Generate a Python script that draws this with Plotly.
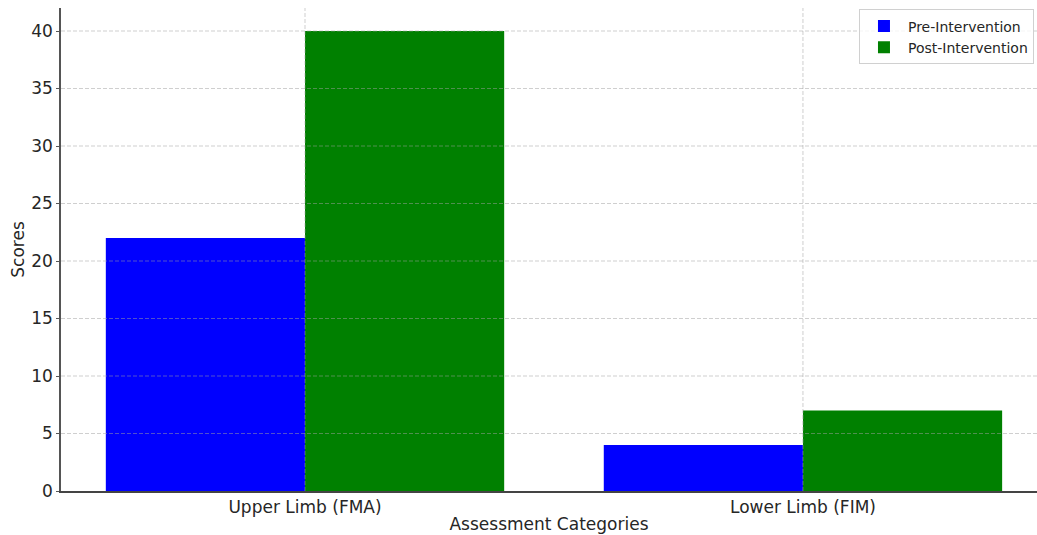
import plotly.graph_objects as go

categories = ["Upper Limb (FMA)", "Lower Limb (FIM)"]
pre_values = [22, 4]
post_values = [40, 7]
y_ticks = [0, 5, 10, 15, 20, 25, 30, 35, 40]
series_names = ["Pre-Intervention", "Post-Intervention"]

FONT = "DejaVu Sans"
TXT = "#262626"
GRID = "rgba(160,160,160,0.5)"

fig = go.Figure()
fig.add_trace(go.Bar(x=categories, y=pre_values, name=series_names[0],
                     marker=dict(color="#0000ff", line=dict(width=0))))
fig.add_trace(go.Bar(x=categories, y=post_values, name=series_names[1],
                     marker=dict(color="#008000", line=dict(width=0))))

# gridlines drawn above bars (as in the reference)
shapes = []
for v in y_ticks[1:]:
    shapes.append(dict(type="line", xref="paper", yref="y", x0=0, x1=1, y0=v, y1=v,
                       line=dict(color=GRID, width=1, dash="4px,2px"), layer="above"))
for i in range(len(categories)):
    shapes.append(dict(type="line", xref="x", yref="paper", x0=i, x1=i, y0=0, y1=1,
                       line=dict(color=GRID, width=1, dash="4px,2px"), layer="above"))

fig.update_layout(
    width=1037, height=535,
    margin=dict(l=61, r=0, t=8, b=44),
    paper_bgcolor="white", plot_bgcolor="white",
    barmode="group", bargap=0.2, bargroupgap=0,
    font=dict(family=FONT, size=17, color=TXT),
    shapes=shapes,
    legend=dict(x=0.8176, y=0.997, xanchor="left", yanchor="top",
                bgcolor="rgba(255,255,255,0.8)", bordercolor="#d0d0d0", borderwidth=1,
                font=dict(family=FONT, size=14, color=TXT),
                tracegroupgap=0, itemwidth=38),
    showlegend=True,
)
fig.update_xaxes(
    type="category", range=[-0.49, 1.47],
    showgrid=False, zeroline=False,
    showline=True, linecolor="#444444", linewidth=1.5,
    ticks="", tickfont=dict(family=FONT, size=17, color=TXT),
    title=dict(text="Assessment Categories", font=dict(family=FONT, size=17, color=TXT), standoff=2),
)
fig.update_yaxes(
    range=[0, 42], tickvals=y_ticks,
    showgrid=False, zeroline=False,
    showline=True, linecolor="#555555", linewidth=1.5,
    ticks="outside", ticklen=3, tickcolor="#555555",
    tickfont=dict(family=FONT, size=17, color=TXT),
    title=dict(text="Scores", font=dict(family=FONT, size=17, color=TXT), standoff=2),
)

fig.write_html("out.html", config={"displayModeBar": False},
               post_script="document.body.style.margin='0';document.body.style.overflow='hidden';")
